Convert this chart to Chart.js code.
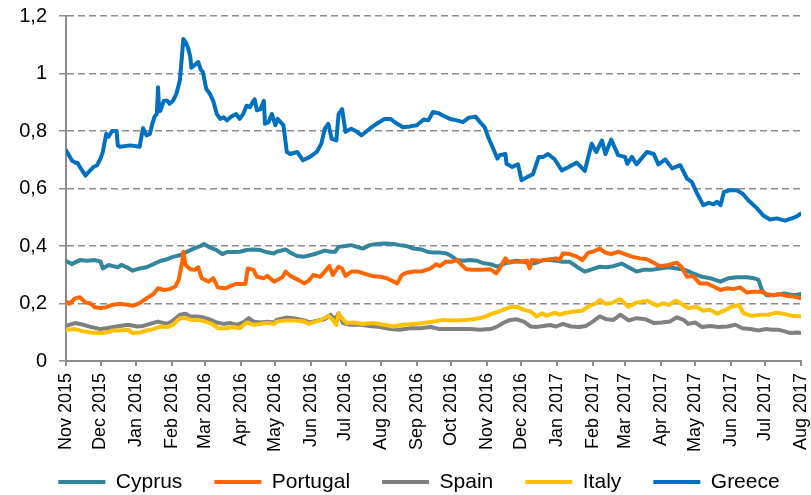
<!DOCTYPE html>
<html>
<head>
<meta charset="utf-8">
<script src="https://cdn.jsdelivr.net/npm/chart.js@4.4.1/dist/chart.umd.min.js"></script>
<style>
  html, body { margin: 0; padding: 0; background: #ffffff; }
  #wrap { width: 811px; height: 495px; }
</style>
</head>
<body>
<div id="wrap"><canvas id="chart" width="811" height="495"></canvas></div>
<script>
// Month axis: tick positions (first day of each month) and their labels
const monthStarts = [
  "2015-11-01","2015-12-01","2016-01-01","2016-02-01","2016-03-01","2016-04-01",
  "2016-05-01","2016-06-01","2016-07-01","2016-08-01","2016-09-01","2016-10-01",
  "2016-11-01","2016-12-01","2017-01-01","2017-02-01","2017-03-01","2017-04-01",
  "2017-05-01","2017-06-01","2017-07-01","2017-08-01"
];
const monthLabels = [
  "Nov 2015","Dec 2015","Jan 2016","Feb 2016","Mar 2016","Apr 2016",
  "May 2016","Jun 2016","Jul 2016","Aug 2016","Sep 2016","Oct 2016",
  "Nov 2016","Dec 2016","Jan 2017","Feb 2017","Mar 2017","Apr 2017",
  "May 2017","Jun 2017","Jul 2017","Aug 2017"
];
const yTicks = [0, 0.2, 0.4, 0.6, 0.8, 1.0, 1.2];

// Cyprus
const cyprusDates = [
  "2015-11-01","2015-11-06","2015-11-13","2015-11-19","2015-11-26","2015-12-01","2015-12-03","2015-12-08",
  "2015-12-12","2015-12-16","2015-12-19","2015-12-24","2015-12-29","2016-01-04","2016-01-10","2016-01-16",
  "2016-01-22","2016-01-28","2016-02-02","2016-02-08","2016-02-14","2016-02-20","2016-02-26","2016-02-29",
  "2016-03-05","2016-03-11","2016-03-16","2016-03-20","2016-03-26","2016-03-31","2016-04-06","2016-04-12",
  "2016-04-18","2016-04-24","2016-04-30","2016-05-02","2016-05-10","2016-05-14","2016-05-20","2016-05-26",
  "2016-05-31","2016-06-06","2016-06-13","2016-06-18","2016-06-22","2016-06-25","2016-07-01","2016-07-06",
  "2016-07-11","2016-07-16","2016-07-22","2016-07-28","2016-08-04","2016-08-12","2016-08-17","2016-08-23",
  "2016-08-29","2016-09-05","2016-09-10","2016-09-15","2016-09-21","2016-09-27","2016-10-01","2016-10-06",
  "2016-10-12","2016-10-17","2016-10-23","2016-10-29","2016-11-04","2016-11-10","2016-11-15","2016-11-21",
  "2016-11-27","2016-12-03","2016-12-09","2016-12-14","2016-12-20","2016-12-26","2016-12-31","2017-01-06",
  "2017-01-12","2017-01-18","2017-01-25","2017-01-31","2017-02-07","2017-02-13","2017-02-19","2017-02-26",
  "2017-03-04","2017-03-11","2017-03-17","2017-03-24","2017-03-31","2017-04-08","2017-04-15","2017-04-22",
  "2017-04-29","2017-05-07","2017-05-14","2017-05-23","2017-05-30","2017-06-06","2017-06-15","2017-06-21",
  "2017-06-25","2017-06-28","2017-07-02","2017-07-08","2017-07-17","2017-07-26","2017-08-01"
];
const cyprusValues = [
  0.348,0.337,0.351,0.349,0.351,0.346,0.322,0.334,
  0.330,0.326,0.334,0.326,0.314,0.322,0.326,0.337,
  0.348,0.354,0.362,0.368,0.380,0.391,0.400,0.407,
  0.395,0.386,0.372,0.379,0.379,0.380,0.386,0.388,
  0.386,0.378,0.374,0.380,0.388,0.377,0.365,0.363,
  0.368,0.374,0.384,0.380,0.380,0.397,0.400,0.403,
  0.397,0.391,0.403,0.407,0.409,0.407,0.403,0.400,
  0.391,0.388,0.380,0.377,0.377,0.374,0.365,0.351,
  0.349,0.351,0.349,0.340,0.337,0.328,0.337,0.345,
  0.349,0.345,0.337,0.342,0.351,0.351,0.349,0.345,
  0.345,0.328,0.311,0.319,0.328,0.326,0.330,0.339,
  0.326,0.311,0.317,0.317,0.322,0.326,0.322,0.317,
  0.305,0.293,0.288,0.276,0.288,0.291,0.291,0.288,
  0.282,0.247,0.229,0.229,0.235,0.229,0.233
];

// Portugal
const portugalDates = [
  "2015-11-01","2015-11-04","2015-11-09","2015-11-13","2015-11-18","2015-11-22","2015-11-26","2015-12-01",
  "2015-12-06","2015-12-12","2015-12-18","2015-12-24","2015-12-29","2016-01-04","2016-01-10","2016-01-16",
  "2016-01-20","2016-01-25","2016-01-30","2016-02-04","2016-02-07","2016-02-10","2016-02-11","2016-02-13",
  "2016-02-17","2016-02-21","2016-02-24","2016-02-27","2016-03-04","2016-03-08","2016-03-12","2016-03-19",
  "2016-03-23","2016-03-28","2016-04-05","2016-04-07","2016-04-12","2016-04-15","2016-04-21","2016-04-24",
  "2016-04-30","2016-05-07","2016-05-10","2016-05-14","2016-05-20","2016-05-26","2016-05-30","2016-06-03",
  "2016-06-09","2016-06-13","2016-06-17","2016-06-20","2016-06-25","2016-06-28","2016-07-01","2016-07-06",
  "2016-07-12","2016-07-18","2016-07-24","2016-07-31","2016-08-06","2016-08-12","2016-08-15","2016-08-19",
  "2016-08-23","2016-08-29","2016-09-05","2016-09-13","2016-09-18","2016-09-21","2016-09-26","2016-10-01",
  "2016-10-06","2016-10-10","2016-10-14","2016-10-20","2016-10-28","2016-11-04","2016-11-09","2016-11-12",
  "2016-11-17","2016-11-20","2016-11-24","2016-11-30","2016-12-06","2016-12-08","2016-12-10","2016-12-17",
  "2016-12-26","2016-12-31","2017-01-03","2017-01-06","2017-01-12","2017-01-18","2017-01-23","2017-01-28",
  "2017-02-01","2017-02-07","2017-02-12","2017-02-17","2017-02-23","2017-03-01","2017-03-07","2017-03-14",
  "2017-03-20","2017-03-26","2017-03-31","2017-04-08","2017-04-15","2017-04-19","2017-04-24","2017-04-29",
  "2017-05-05","2017-05-11","2017-05-17","2017-05-23","2017-05-29","2017-06-03","2017-06-09","2017-06-15",
  "2017-06-21","2017-06-27","2017-07-02","2017-07-08","2017-07-14","2017-07-20","2017-07-26","2017-08-01"
];
const portugalValues = [
  0.207,0.199,0.218,0.222,0.203,0.201,0.187,0.184,
  0.187,0.196,0.199,0.196,0.192,0.201,0.218,0.233,
  0.253,0.247,0.250,0.259,0.282,0.345,0.380,0.334,
  0.319,0.317,0.326,0.288,0.276,0.288,0.256,0.253,
  0.261,0.268,0.268,0.322,0.317,0.293,0.288,0.296,
  0.276,0.291,0.311,0.296,0.284,0.270,0.279,0.299,
  0.293,0.311,0.330,0.299,0.328,0.322,0.296,0.311,
  0.311,0.303,0.296,0.293,0.288,0.276,0.270,0.299,
  0.307,0.311,0.311,0.322,0.337,0.330,0.345,0.345,
  0.351,0.334,0.319,0.317,0.317,0.319,0.305,0.322,
  0.357,0.342,0.345,0.345,0.349,0.322,0.351,0.349,
  0.354,0.357,0.351,0.374,0.372,0.363,0.351,0.377,
  0.380,0.391,0.377,0.372,0.380,0.372,0.363,0.357,
  0.354,0.342,0.330,0.334,0.342,0.328,0.293,0.296,
  0.270,0.270,0.259,0.247,0.253,0.250,0.256,0.238,
  0.241,0.241,0.233,0.229,0.233,0.226,0.224,0.218
];

// Spain
const spainDates = [
  "2015-11-01","2015-11-09","2015-11-16","2015-11-23","2015-12-01","2015-12-06","2015-12-12","2015-12-18",
  "2015-12-25","2016-01-02","2016-01-07","2016-01-13","2016-01-20","2016-01-28","2016-02-02","2016-02-08",
  "2016-02-13","2016-02-17","2016-02-23","2016-02-28","2016-03-05","2016-03-11","2016-03-17","2016-03-23",
  "2016-03-28","2016-04-03","2016-04-08","2016-04-12","2016-04-18","2016-04-24","2016-04-30","2016-05-02",
  "2016-05-10","2016-05-17","2016-05-26","2016-05-31","2016-06-07","2016-06-13","2016-06-18","2016-06-22",
  "2016-06-25","2016-06-29","2016-07-05","2016-07-14","2016-07-22","2016-07-31","2016-08-09","2016-08-17",
  "2016-08-26","2016-09-04","2016-09-13","2016-09-21","2016-09-30","2016-10-09","2016-10-17","2016-10-26",
  "2016-11-04","2016-11-10","2016-11-15","2016-11-21","2016-11-27","2016-12-03","2016-12-09","2016-12-14",
  "2016-12-20","2016-12-26","2016-12-31","2017-01-06","2017-01-13","2017-01-20","2017-01-26","2017-02-01",
  "2017-02-07","2017-02-13","2017-02-19","2017-02-25","2017-03-04","2017-03-11","2017-03-19","2017-03-26",
  "2017-04-02","2017-04-09","2017-04-15","2017-04-21","2017-04-25","2017-05-01","2017-05-07","2017-05-14",
  "2017-05-21","2017-05-29","2017-06-05","2017-06-11","2017-06-18","2017-06-25","2017-07-01","2017-07-07",
  "2017-07-12","2017-07-18","2017-07-23","2017-07-29","2017-08-01"
];
const spainValues = [
  0.122,0.132,0.126,0.118,0.111,0.114,0.118,0.122,
  0.126,0.120,0.122,0.129,0.137,0.129,0.141,0.161,
  0.164,0.155,0.155,0.152,0.145,0.134,0.129,0.132,
  0.126,0.134,0.149,0.137,0.134,0.137,0.134,0.143,
  0.151,0.149,0.141,0.134,0.141,0.145,0.161,0.143,
  0.166,0.132,0.126,0.126,0.122,0.118,0.111,0.109,
  0.114,0.114,0.118,0.111,0.111,0.111,0.111,0.109,
  0.111,0.120,0.132,0.143,0.145,0.137,0.120,0.118,
  0.122,0.125,0.120,0.129,0.120,0.118,0.122,0.137,
  0.155,0.145,0.143,0.161,0.141,0.149,0.145,0.132,
  0.134,0.137,0.152,0.143,0.129,0.134,0.118,0.122,
  0.118,0.120,0.126,0.114,0.111,0.106,0.111,0.109,
  0.109,0.103,0.097,0.099,0.097
];

// Italy
const italyDates = [
  "2015-11-01","2015-11-09","2015-11-16","2015-11-23","2015-12-01","2015-12-06","2015-12-12","2015-12-18",
  "2015-12-25","2015-12-29","2016-01-04","2016-01-10","2016-01-16","2016-01-22","2016-01-28","2016-02-02",
  "2016-02-08","2016-02-13","2016-02-18","2016-02-24","2016-03-01","2016-03-07","2016-03-12","2016-03-20",
  "2016-03-26","2016-03-31","2016-04-06","2016-04-12","2016-04-18","2016-04-24","2016-04-30","2016-05-02",
  "2016-05-10","2016-05-17","2016-05-26","2016-05-30","2016-06-05","2016-06-10","2016-06-16","2016-06-20",
  "2016-06-23","2016-06-25","2016-06-28","2016-07-02","2016-07-08","2016-07-16","2016-07-25","2016-08-03",
  "2016-08-12","2016-08-20","2016-08-29","2016-09-07","2016-09-15","2016-09-24","2016-10-03","2016-10-12",
  "2016-10-20","2016-10-29","2016-11-05","2016-11-11","2016-11-15","2016-11-21","2016-11-27","2016-12-03",
  "2016-12-09","2016-12-14","2016-12-19","2016-12-23","2016-12-30","2017-01-03","2017-01-09","2017-01-16",
  "2017-01-23","2017-01-29","2017-02-04","2017-02-07","2017-02-12","2017-02-17","2017-02-25","2017-03-04",
  "2017-03-11","2017-03-20","2017-03-29","2017-04-03","2017-04-08","2017-04-14","2017-04-19","2017-04-25",
  "2017-05-02","2017-05-08","2017-05-14","2017-05-20","2017-05-26","2017-06-02","2017-06-08","2017-06-12",
  "2017-06-19","2017-06-27","2017-07-04","2017-07-10","2017-07-17","2017-07-24","2017-08-01"
];
const italyValues = [
  0.109,0.111,0.103,0.099,0.097,0.099,0.106,0.106,
  0.109,0.097,0.099,0.106,0.111,0.120,0.118,0.126,
  0.149,0.149,0.143,0.143,0.137,0.129,0.114,0.114,
  0.118,0.114,0.134,0.126,0.129,0.132,0.129,0.137,
  0.141,0.141,0.137,0.129,0.137,0.143,0.157,0.143,
  0.126,0.164,0.149,0.132,0.134,0.129,0.132,0.126,
  0.120,0.126,0.129,0.132,0.137,0.143,0.141,0.143,
  0.145,0.152,0.164,0.172,0.178,0.187,0.189,0.178,
  0.172,0.155,0.166,0.157,0.168,0.161,0.168,0.172,
  0.175,0.192,0.201,0.212,0.199,0.201,0.215,0.189,
  0.203,0.210,0.192,0.201,0.195,0.210,0.199,0.184,
  0.189,0.175,0.178,0.164,0.175,0.189,0.195,0.166,
  0.157,0.161,0.161,0.168,0.164,0.157,0.155
];

// Greece
const greeceDates = [
  "2015-11-01","2015-11-03","2015-11-06","2015-11-09","2015-11-11","2015-11-13","2015-11-15","2015-11-18",
  "2015-11-19","2015-11-22","2015-11-25","2015-11-28","2015-12-01","2015-12-03","2015-12-06","2015-12-08",
  "2015-12-11","2015-12-15","2015-12-16","2015-12-18","2015-12-27","2016-01-04","2016-01-06","2016-01-07",
  "2016-01-10","2016-01-13","2016-01-15","2016-01-17","2016-01-19","2016-01-20","2016-01-21","2016-01-22",
  "2016-01-25","2016-01-28","2016-01-30","2016-02-02","2016-02-05","2016-02-08","2016-02-10","2016-02-11",
  "2016-02-13","2016-02-15","2016-02-17","2016-02-18","2016-02-21","2016-02-24","2016-02-26","2016-02-28",
  "2016-03-02","2016-03-05","2016-03-08","2016-03-11","2016-03-14","2016-03-17","2016-03-20","2016-03-23",
  "2016-03-25","2016-03-28","2016-03-31","2016-04-03","2016-04-06","2016-04-09","2016-04-12","2016-04-13",
  "2016-04-15","2016-04-18","2016-04-21","2016-04-22","2016-04-25","2016-04-28","2016-05-01","2016-05-03",
  "2016-05-08","2016-05-11","2016-05-14","2016-05-20","2016-05-23","2016-05-25","2016-05-31","2016-06-06",
  "2016-06-10","2016-06-13","2016-06-16","2016-06-19","2016-06-23","2016-06-25","2016-06-28","2016-07-01",
  "2016-07-06","2016-07-11","2016-07-15","2016-07-22","2016-07-28","2016-08-04","2016-08-09","2016-08-15",
  "2016-08-20","2016-08-26","2016-09-01","2016-09-07","2016-09-11","2016-09-15","2016-09-20","2016-09-24",
  "2016-09-30","2016-10-06","2016-10-11","2016-10-16","2016-10-22","2016-10-26","2016-10-30","2016-11-02",
  "2016-11-07","2016-11-10","2016-11-12","2016-11-17","2016-11-18","2016-11-23","2016-11-28","2016-12-01",
  "2016-12-06","2016-12-11","2016-12-16","2016-12-20","2016-12-24","2016-12-30","2017-01-05","2017-01-11",
  "2017-01-18","2017-01-25","2017-01-31","2017-02-04","2017-02-09","2017-02-12","2017-02-17","2017-02-23",
  "2017-03-01","2017-03-03","2017-03-07","2017-03-11","2017-03-20","2017-03-26","2017-03-30","2017-04-05",
  "2017-04-11","2017-04-18","2017-04-24","2017-04-28","2017-05-02","2017-05-08","2017-05-13","2017-05-17",
  "2017-05-20","2017-05-23","2017-05-26","2017-05-31","2017-06-06","2017-06-11","2017-06-16","2017-06-24",
  "2017-06-29","2017-07-05","2017-07-11","2017-07-18","2017-07-24","2017-07-28","2017-08-01"
];
const greeceValues = [
  0.733,0.720,0.698,0.690,0.690,0.675,0.663,0.645,
  0.650,0.663,0.675,0.681,0.704,0.727,0.790,0.780,
  0.800,0.800,0.750,0.745,0.750,0.745,0.790,0.810,
  0.785,0.790,0.825,0.850,0.860,0.952,0.870,0.870,
  0.905,0.905,0.895,0.905,0.930,0.976,1.070,1.120,
  1.110,1.090,1.060,1.020,1.030,1.040,1.015,1.005,
  0.946,0.930,0.905,0.860,0.842,0.848,0.837,0.848,
  0.853,0.859,0.842,0.859,0.888,0.883,0.905,0.910,
  0.872,0.876,0.905,0.825,0.831,0.859,0.820,0.842,
  0.820,0.727,0.720,0.727,0.710,0.698,0.710,0.727,
  0.756,0.808,0.825,0.773,0.767,0.859,0.876,0.797,
  0.808,0.797,0.785,0.808,0.825,0.842,0.842,0.825,
  0.813,0.816,0.820,0.840,0.837,0.866,0.862,0.853,
  0.842,0.837,0.831,0.846,0.850,0.831,0.813,0.779,
  0.733,0.704,0.716,0.720,0.686,0.675,0.684,0.629,
  0.640,0.650,0.710,0.710,0.720,0.701,0.663,0.675,
  0.690,0.661,0.756,0.727,0.767,0.720,0.770,0.716,
  0.710,0.686,0.710,0.684,0.727,0.720,0.684,0.701,
  0.670,0.681,0.634,0.623,0.588,0.542,0.550,0.545,
  0.554,0.542,0.588,0.594,0.594,0.583,0.560,0.530,
  0.507,0.492,0.496,0.488,0.496,0.502,0.513
];

// Dates are placed on a linear axis counted in days from the first month start
const ORIGIN = Date.UTC(2015, 10, 1);
function dayOf(s) {
  const [y, m, d] = s.split("-").map(Number);
  return (Date.UTC(y, m - 1, d) - ORIGIN) / 86400000;
}
function toPoints(dates, values) {
  return dates.map((d, i) => ({ x: dayOf(d), y: values[i] }));
}
const tickDays = monthStarts.map(dayOf);

const FONT = "'Liberation Sans', Arial, Helvetica, sans-serif";
const axisGray = "#8c8c8c";
const gridGray = "#8c8c8c";

function series(label, dates, values, color, order) {
  return {
    label,
    data: toPoints(dates, values),
    borderColor: color,
    backgroundColor: color,
    borderWidth: 4,
    pointRadius: 0,
    pointHoverRadius: 0,
    tension: 0,
    borderJoinStyle: "round",
    borderCapStyle: "round",
    order
  };
}

const datasets = [
  series("Cyprus", cyprusDates, cyprusValues, "#31859C", 5),
  series("Portugal", portugalDates, portugalValues, "#FF6600", 4),
  series("Spain", spainDates, spainValues, "#808080", 3),
  series("Italy", italyDates, italyValues, "#FFC000", 2),
  series("Greece", greeceDates, greeceValues, "#0070C0", 1)
];

// Nudges the legend row after layout so it sits centred under the plot
const legendNudge = {
  id: "legendNudge",
  afterLayout(chart) {
    const lg = chart.legend;
    if (!lg) return;
    lg.left += 13.5;
    lg.right += 13.5;
    lg.top -= 11.5;
  }
};

new Chart(document.getElementById("chart"), {
  type: "line",
  data: { datasets },
  plugins: [legendNudge],
  options: {
    responsive: false,
    animation: false,
    events: [],
    layout: { padding: { left: 0, right: 0, top: 16, bottom: 0 } },
    plugins: {
      tooltip: { enabled: false },
      legend: {
        position: "bottom",
        maxHeight: 44,
        labels: {
          boxWidth: 47,
          boxHeight: 4,
          padding: 32,
          color: "#000000",
          font: { family: FONT, size: 21 },
          sort: (a, b) => a.datasetIndex - b.datasetIndex,
          generateLabels: (chart) =>
            Chart.defaults.plugins.legend.labels.generateLabels(chart).map((item) => ({
              ...item,
              fillStyle: item.strokeStyle,
              lineWidth: 0
            }))
        }
      }
    },
    scales: {
      x: {
        type: "linear",
        min: dayOf(monthStarts[0]),
        max: dayOf(monthStarts[monthStarts.length - 1]),
        afterBuildTicks: (scale) => {
          scale.ticks = tickDays.map((v) => ({ value: v }));
        },
        afterFit: (scale) => {
          scale.height = 90;
          scale.paddingLeft = 0;
          scale.paddingRight = 10;
        },
        ticks: {
          autoSkip: false,
          minRotation: 90,
          maxRotation: 90,
          padding: 7,
          color: "#000000",
          font: { family: FONT, size: 18 },
          callback: (value, index) => monthLabels[index]
        },
        grid: {
          drawOnChartArea: false,
          drawTicks: true,
          tickLength: 5,
          color: axisGray,
          lineWidth: 2
        },
        border: { display: true, color: axisGray, width: 2 }
      },
      y: {
        min: yTicks[0],
        max: yTicks[yTicks.length - 1],
        afterBuildTicks: (scale) => {
          scale.ticks = yTicks.map((v) => ({ value: v }));
        },
        afterFit: (scale) => {
          scale.width = 66;
          scale.paddingTop = 0;
          scale.paddingBottom = 0;
        },
        ticks: {
          padding: 12,
          color: "#000000",
          font: { family: FONT, size: 20 },
          callback: (v) => String(Math.round(v * 10) / 10).replace(".", ",")
        },
        grid: {
          color: gridGray,
          lineWidth: 1.5,
          tickLength: 7,
          tickColor: gridGray
        },
        border: { display: true, color: axisGray, width: 2, dash: [7, 4] }
      }
    }
  }
});
</script>
</body>
</html>
